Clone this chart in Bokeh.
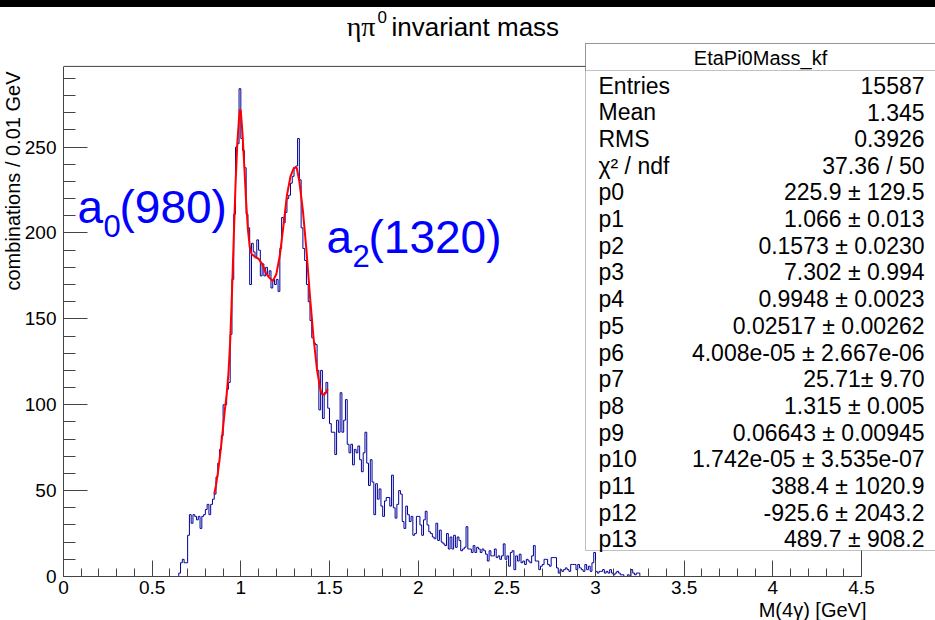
import numpy as np
from bokeh.plotting import figure
from bokeh.layouts import column
from bokeh.models import FixedTicker, Label, BoxAnnotation, Range1d, Title, Div
from bokeh.embed import file_html
from bokeh.resources import INLINE

# ---------------- data ----------------
bin_width = 0.01
first_bin_low_edge = 0.64
counts = [
    0, 2, 8, 10, 8, 8, 24, 36, 31, 36,            # 0.64-0.73
    35, 33, 35, 28, 35, 36, 39, 42, 36, 42,       # 0.74-0.83
    45, 48, 58, 66, 74, 82, 100, 100, 109, 113,   # 0.84-0.93
    141, 173, 211, 250, 252, 284, 255, 248, 238, 211,  # 0.94-1.03
    203, 170, 194, 189, 186, 196, 190, 175, 182, 175,  # 1.04-1.13
    180, 175, 178, 168, 173, 170, 173, 166, 191, 209,  # 1.14-1.23
    206, 212, 220, 222, 229, 233, 238, 239, 255, 231,  # 1.24-1.33
    203, 191, 184, 170, 160, 149, 139, 136, 135, 120,  # 1.34-1.43
    97, 120, 92, 107, 113, 98, 89, 84, 84, 71,         # 1.44-1.53
    91, 84, 107, 84, 91, 103, 77, 72, 77, 65,          # 1.54-1.63
    74, 72, 76, 68, 61, 72, 84, 66, 53, 68,            # 1.64-1.73
    55, 36, 54, 45, 51, 41, 35, 44, 46, 46,            # 1.74-1.83
    41, 59, 40, 34, 42, 50, 48, 32, 28, 41,            # 1.84-1.93
    36, 32, 35, 24, 25, 35, 35, 30, 24, 33,            # 1.94-2.03
    38, 30, 26, 25, 23, 22, 31, 21, 27, 20,            # 2.04-2.13
    19, 18, 25, 16, 23, 16, 24, 17, 23, 21,            # 2.14-2.23
    15, 16, 17, 29, 16, 16, 14, 18, 14, 17,            # 2.24-2.33
    16, 14, 16, 15, 13, 9, 15, 12, 12, 16,             # 2.34-2.43
    11, 12, 10, 12, 19, 10, 12, 6, 14, 15,             # 2.44-2.53
    4, 12, 9, 13, 8, 9, 7, 10, 9, 8,                   # 2.54-2.63
    12, 18, 9, 9, 4, 6, 7, 10, 10, 7,                  # 2.64-2.73
    6, 11, 11, 11, 5, 2, 4, 3, 4, 5,                   # 2.74-2.83
    4, 3, 7, 7, 7, 4, 7, 5, 4, 3,                      # 2.84-2.93
    7, 4, 6, 3, 8, 14, 3, 2, 3, 3,                     # 2.94-3.03
    4, 2, 3, 2, 4, 2, 1, 2, 3, 2,                      # 3.04-3.13
    1, 1, 0, 0, 1, 0, 4, 2, 1, 2,                      # 3.14-3.23
    2, 0,                                              # 3.24-3.25
]

fit_mass = [0.85, 0.86, 0.87, 0.88, 0.89, 0.90, 0.91, 0.92, 0.93, 0.94, 0.95, 0.96,
            0.97, 0.98, 0.99, 0.995, 1.00, 1.01, 1.02, 1.03, 1.04, 1.05, 1.06, 1.08,
            1.10, 1.12, 1.14, 1.16, 1.18, 1.20, 1.22, 1.24, 1.26, 1.28, 1.30, 1.315,
            1.33, 1.35, 1.37, 1.39, 1.41, 1.43, 1.45, 1.46, 1.47, 1.48, 1.49]
fit_value = [48, 53, 60, 68, 77, 87, 97, 106, 118, 137, 165, 197,
             228, 252, 267, 272, 271, 257, 238, 218, 202, 192, 188, 186,
             185, 182, 177, 174, 172, 176, 187, 204, 222, 233, 238, 238,
             230, 213, 190, 163, 139, 120, 108, 106, 106, 107, 109]

x_min, x_max = 0.0, 4.5
y_min, y_max = 0.0, 297.0
x_ticks = [0, 0.5, 1, 1.5, 2, 2.5, 3, 3.5, 4, 4.5]
x_tick_labels = ["0", "0.5", "1", "1.5", "2", "2.5", "3", "3.5", "4", "4.5"]
y_ticks = [0, 50, 100, 150, 200, 250]

stat_names = ["Entries", "Mean", "RMS", "\u03c7\u00b2 / ndf", "p0", "p1", "p2", "p3", "p4",
              "p5", "p6", "p7", "p8", "p9", "p10", "p11", "p12", "p13"]
stat_values = ["15587", "1.345", "0.3926", "37.36 / 50",
               "225.9 \u00b1 129.5", "1.066 \u00b1 0.013", "0.1573 \u00b1 0.0230",
               "7.302 \u00b1 0.994", "0.9948 \u00b1 0.0023", "0.02517 \u00b1 0.00262",
               "4.008e-05 \u00b1 2.667e-06", "25.71\u00b1 9.70", "1.315 \u00b1 0.005",
               "0.06643 \u00b1 0.00945", "1.742e-05 \u00b1 3.535e-07",
               "388.4 \u00b1 1020.9", "-925.6 \u00b1 2043.2", "489.7 \u00b1 908.2"]
stat_title = "EtaPi0Mass_kf"

# ---------------- geometry (canvas pixels of the 935x620 page) ----------------
W, H = 935, 620
BAND = 7                    # black strip at the top of the page
FL, FB = 63, 577            # data frame left / bottom
ROOT_R, ROOT_T = 861, 66    # position of x_max / y_max
px_per_x = (ROOT_R - FL) / (x_max - x_min)
px_per_y = (FB - ROOT_T) / (y_max - y_min)
x_end = x_min + (W - FL) / px_per_x          # frame runs to the right page edge
y_end = y_min + (FB - BAND) / px_per_y       # frame runs up to the black strip

p = figure(width=W, height=H - BAND, x_range=Range1d(x_min, x_end),
           y_range=Range1d(y_min, y_end),
           output_backend="svg", toolbar_location=None,
           min_border_left=FL, min_border_right=0, min_border_top=0,
           min_border_bottom=H - FB, margin=0)
p.outline_line_color = None
p.grid.visible = False
p.background_fill_color = "white"
p.border_fill_color = "white"

FONT = "Liberation Sans"
AX = "#444444"

xa = p.xaxis[0]
xa.bounds = (x_min, x_max)
xa.ticker = FixedTicker(ticks=x_ticks, minor_ticks=list(np.round(np.arange(0, 4.51, 0.1), 2)))
xa.major_label_overrides = {t: s for t, s in zip(x_ticks, x_tick_labels)}
xa.major_tick_in, xa.major_tick_out = 16, 0
xa.minor_tick_in, xa.minor_tick_out = 8, 0
xa.major_label_standoff = 4

ya = p.yaxis[0]
ya.bounds = (y_min, y_max)
ya.ticker = FixedTicker(ticks=y_ticks, minor_ticks=list(range(0, 297, 10)))
ya.major_tick_in, ya.major_tick_out = 24, 0
ya.minor_tick_in, ya.minor_tick_out = 12, 0
ya.major_label_standoff = 7

for ax in (xa, ya):
    ax.axis_line_color = AX
    ax.major_tick_line_color = AX
    ax.minor_tick_line_color = AX
    ax.major_label_text_font = FONT
    ax.major_label_text_font_size = "19px"
    ax.major_label_text_color = "black"

# frame top and right edges
p.segment(x0=[x_min, x_max], y0=[y_max, y_min], x1=[x_max, x_max], y1=[y_max, y_max],
          line_color=AX, line_width=1)

# histogram (step) and fit
edges = np.round(first_bin_low_edge + bin_width * np.arange(len(counts) + 1), 2)
p.step(list(edges), counts + [0], mode="after", line_color="#000099", line_width=1)
p.line(fit_mass, fit_value, line_color="#ff0000", line_width=2)

# axis titles (ROOT style: flush with the axis end)
p.add_layout(Title(text="M(4\u03b3) [GeV]", align="right", text_font=FONT,
                   text_font_size="20px", text_font_style="normal", text_color="black",
                   offset=69, standoff=0), "below")
p.add_layout(Title(text="combinations / 0.01 GeV", align="right", text_font=FONT,
                   text_font_size="20px", text_font_style="normal", text_color="black",
                   offset=64, standoff=-4), "left")


def lab(x, y, text, size, color="black", align="left", baseline="middle", angle=0.0,
        font=FONT):
    p.add_layout(Label(x=x - FL, y=FB - y, x_units="screen", y_units="screen", text=text,
                       text_font_size=f"{size}px", text_color=color, text_align=align,
                       text_baseline=baseline, angle=angle, text_font=font))


def box(l, t, r, b, fill="white", line="#333333", alpha=1.0):
    p.add_layout(BoxAnnotation(left=l - FL, right=r - FL, top=FB - t, bottom=FB - b,
                               left_units="screen", right_units="screen",
                               top_units="screen", bottom_units="screen",
                               fill_color=fill, fill_alpha=alpha, line_color=line,
                               line_width=1))


# title
lab(375, 27, "\u03b7\u03c0", 28, align="right", font="Liberation Serif")
lab(377, 17, "0", 17)
lab(391, 27, "invariant mass", 26)

# resonance annotations
BLUE = "#0000ff"
lab(77, 207, "a", 46, color=BLUE, baseline="alphabetic")
lab(103, 226, "0", 31, color=BLUE, baseline="alphabetic")
lab(119, 207, "(980)", 46, color=BLUE, baseline="alphabetic")
lab(326, 237, "a", 46, color=BLUE, baseline="alphabetic")
lab(352, 256, "2", 31, color=BLUE, baseline="alphabetic")
lab(368, 237, "(1320)", 46, color=BLUE, baseline="alphabetic")

# stats box
box(585, 44, 945, 551)
box(585, 44, 945, 71, fill=None, alpha=0.0)
lab(760, 58, stat_title, 20, align="center")
for i, (n, v) in enumerate(zip(stat_names, stat_values)):
    yy = 86 + 26.7 * i
    lab(598, yy, n, 23)
    lab(924, yy, v, 23, align="right")

band = Div(text="", width=W, height=BAND, margin=0,
           styles={"background-color": "black"})
layout = column(band, p, spacing=0, margin=0)

open("out.html", "w").write(file_html(layout, INLINE))
